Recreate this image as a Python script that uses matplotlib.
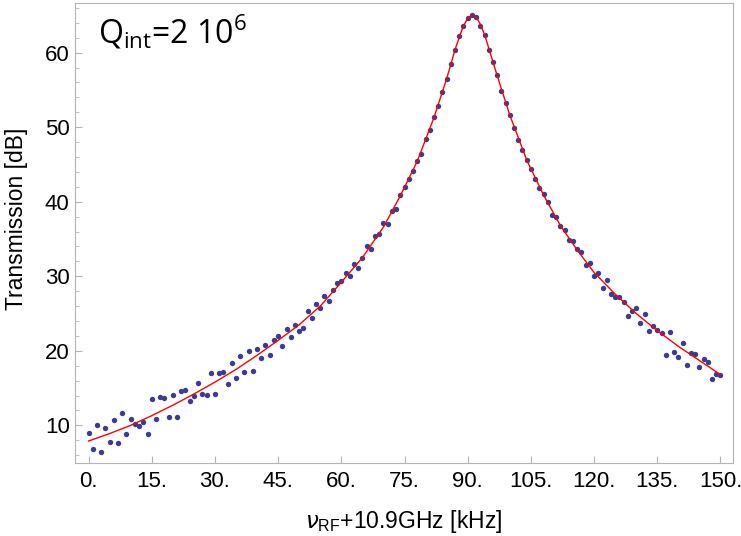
import matplotlib
matplotlib.use('Agg')
import matplotlib.pyplot as plt
from matplotlib.ticker import MultipleLocator

# measured points, one per kHz
freq_khz = list(range(0, 151))
transmission_db = [
    9.0, 6.8, 10.1, 6.4, 9.7, 7.8, 10.7, 7.6, 11.7, 8.9,
    10.9, 10.2, 9.9, 10.4, 8.8, 13.5, 10.8, 13.8, 13.7, 11.1,
    14.1, 11.1, 14.6, 14.8, 13.3, 14.0, 15.7, 14.2, 14.1, 17.0,
    14.2, 17.0, 17.2, 15.5, 18.4, 16.4, 19.3, 17.1, 20.0, 17.3,
    20.2, 19.1, 20.8, 19.4, 21.5, 22.0, 20.6, 22.9, 21.9, 23.5,
    22.6, 23.1, 25.3, 24.4, 26.3, 25.8, 27.3, 26.7, 28.1, 29.1,
    29.4, 30.5, 30.0, 31.7, 31.1, 32.4, 34.0, 33.7, 35.4, 35.7,
    37.2, 37.0, 38.8, 39.0, 40.9, 42.0, 43.0, 44.1, 45.5, 46.4,
    48.4, 49.6, 51.4, 52.9, 54.7, 56.5, 58.5, 60.4, 62.2, 63.6,
    64.7, 65.0, 64.8, 63.6, 62.4, 60.4, 58.7, 57.0, 54.9, 53.3,
    51.6, 49.9, 48.3, 47.0, 45.6, 44.4, 43.0, 41.9, 41.0, 40.0,
    38.2, 37.9, 36.8, 36.2, 34.9, 34.7, 33.6, 33.2, 31.5, 31.8,
    30.0, 30.4, 28.4, 29.5, 27.6, 27.2, 27.2, 26.5, 24.7, 25.3,
    25.7, 23.7, 24.9, 22.6, 23.3, 22.8, 22.4, 19.5, 22.5, 19.9,
    19.2, 21.1, 18.1, 19.7, 19.6, 17.8, 18.9, 18.5, 16.2, 16.9,
    16.7,
]

# fitted curve
fit_freq = [0, 5, 10, 15, 20, 25, 30, 35, 40, 45, 50, 55, 60, 65, 70, 74,
            78, 82, 85, 87, 88, 89, 90, 91, 92, 93, 94, 95, 97, 100, 104,
            108, 112, 116, 120, 125, 130, 135, 140, 145, 150]
fit_db = [7.9, 8.9, 10.0, 11.3, 12.7, 14.2, 15.8, 17.5, 19.4, 21.4, 23.5,
          26.0, 29.2, 32.5, 36.6, 40.8, 45.4, 51.3, 56.5, 60.4, 62.1, 63.6,
          64.6, 65.0, 64.8, 63.8, 62.4, 60.6, 56.9, 51.6, 45.6, 40.9, 36.8,
          33.5, 30.5, 27.6, 25.0, 22.7, 20.6, 18.7, 16.8]

xticks = list(range(0, 151, 15))
yticks = [10, 20, 30, 40, 50, 60]

plt.rcParams['font.family'] = ['Liberation Sans', 'DejaVu Sans']

fig = plt.figure(figsize=(7.41, 5.36), dpi=100)
ax = fig.add_axes([0.1016, 0.1362, 0.8872, 0.8588])

ax.scatter(freq_khz, transmission_db, s=15, color='#3b3b96', linewidths=0, zorder=2)
ax.plot(fit_freq, fit_db, color='red', lw=1.0, zorder=3)

ax.set_xlim(-3.15, 152.9)
ax.set_ylim(4.95, 66.7)
ax.set_xticks(xticks)
ax.set_xticklabels([f'{t}.' for t in xticks])
ax.set_yticks(yticks)
ax.yaxis.set_minor_locator(MultipleLocator(2))

frame_col = '#b4b4b4'
for sp in ax.spines.values():
    sp.set_color(frame_col)
ax.tick_params(which='both', direction='in', color=frame_col, labelsize=16, labelcolor='black')
ax.tick_params(axis='x', which='major', length=5, pad=6)
ax.tick_params(axis='y', which='major', length=5, pad=4)
ax.tick_params(axis='y', which='minor', length=3)

ax.set_ylabel('Transmission [dB]', fontsize=16.5)
ax.yaxis.set_label_coords(-0.072, 0.53)
ax.set_xlabel(r'$\nu_{\mathregular{RF}}$+10.9GHz [kHz]', fontsize=16.5)
ax.xaxis.set_label_coords(0.5, -0.098)

ax.text(2.2, 61.2, r'Q$_{\mathregular{int}}$=2 10$^{\mathregular{6}}$', fontsize=23,
        family='Open Sans', ha='left', va='baseline')

fig.savefig('out.png', dpi=100)
